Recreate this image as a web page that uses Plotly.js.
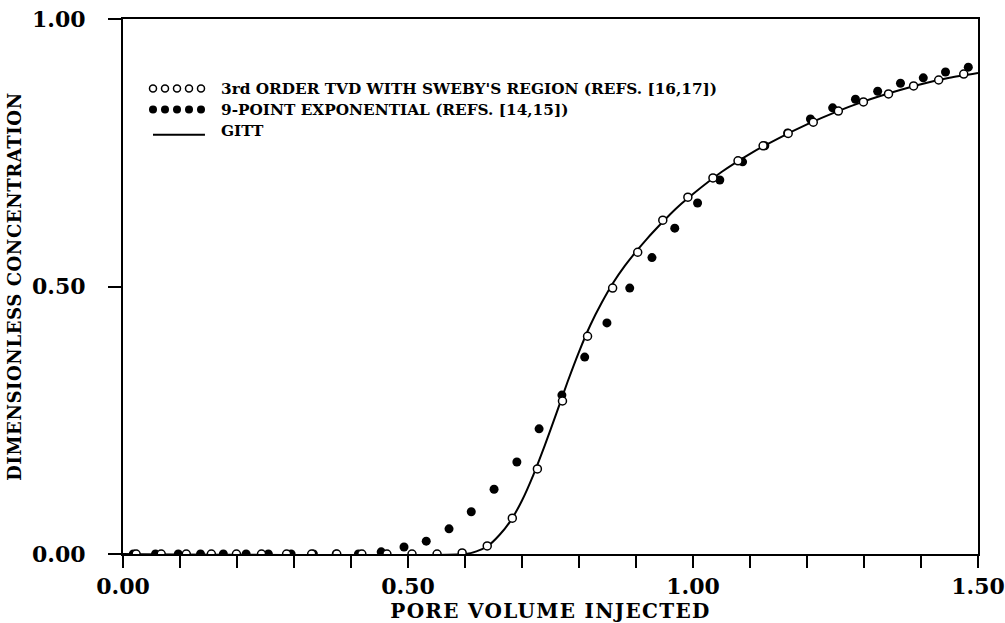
<!DOCTYPE html>
<html>
<head>
<meta charset="utf-8">
<script src="https://cdn.plot.ly/plotly-3.0.1.min.js"></script>
<style>
  html, body { margin: 0; padding: 0; background: #fff; }
  #chart { width: 1005px; height: 623px; }
  /* wide typewriter-like spacing for the axis titles */
  #chart .xtitle { letter-spacing: 1.3px; }
  #chart .ytitle { letter-spacing: 0.6px; }
</style>
</head>
<body>
<div id="chart"></div>
<script>
// Pore volume injected (x) and dimensionless concentration (y) for each scheme.
var tvdX = [0.023, 0.067, 0.111, 0.155, 0.199, 0.243, 0.287, 0.331, 0.375, 0.419,
            0.463, 0.507, 0.551, 0.595, 0.639, 0.683, 0.727, 0.771, 0.815, 0.859,
            0.903, 0.947, 0.991, 1.035, 1.079, 1.123, 1.167, 1.211, 1.255, 1.299,
            1.343, 1.387, 1.431, 1.475];
var tvdY = [0, 0, 0, 0, 0, 0, 0, 0, 0, 0,
            0, 0, 0, 0.002, 0.015, 0.067, 0.159, 0.286, 0.407, 0.497,
            0.564, 0.624, 0.667, 0.703, 0.735, 0.763, 0.786, 0.807, 0.828, 0.845,
            0.860, 0.875, 0.886, 0.897];

var expX = [0.018, 0.057, 0.097, 0.136, 0.176, 0.216, 0.255, 0.295, 0.334, 0.374,
            0.413, 0.453, 0.493, 0.532, 0.572, 0.611, 0.651, 0.691, 0.730, 0.770,
            0.810, 0.849, 0.889, 0.928, 0.968, 1.008, 1.047, 1.087, 1.126, 1.166,
            1.206, 1.245, 1.285, 1.324, 1.364, 1.404, 1.443, 1.483];
var expY = [0, 0, 0, 0, 0, 0, 0, 0, 0, 0,
            0, 0.004, 0.013, 0.024, 0.047, 0.079, 0.121, 0.172, 0.234, 0.297,
            0.368, 0.432, 0.497, 0.554, 0.609, 0.656, 0.699, 0.733, 0.763, 0.787,
            0.813, 0.834, 0.850, 0.865, 0.880, 0.890, 0.901, 0.910];

var gittX = [0.00, 0.60, 0.62, 0.64, 0.66, 0.68, 0.70, 0.72, 0.74, 0.76,
             0.78, 0.80, 0.82, 0.84, 0.86, 0.88, 0.90, 0.92, 0.94, 0.96,
             0.98, 1.00, 1.05, 1.10, 1.15, 1.20, 1.25, 1.30, 1.35, 1.40,
             1.45, 1.50];
var gittY = [0.000, 0.000, 0.005, 0.015, 0.035, 0.062, 0.100, 0.148, 0.203, 0.262,
             0.322, 0.378, 0.428, 0.470, 0.507, 0.538, 0.565, 0.590, 0.613, 0.635,
             0.655, 0.673, 0.714, 0.748, 0.777, 0.803, 0.826, 0.846, 0.863, 0.878,
             0.890, 0.899];

// Axis ticks: every 0.1 on x, labelled every 0.5.
var xTickVals = [0, 0.1, 0.2, 0.3, 0.4, 0.5, 0.6, 0.7, 0.8, 0.9, 1.0, 1.1, 1.2, 1.3, 1.4, 1.5];
var xTickText = ["0.00", "", "", "", "", "0.50", "", "", "", "", "1.00", "", "", "", "", "1.50"];
var yTickVals = [0, 0.5, 1.0];
var yTickText = ["0.00", "0.50", "1.00"];

// Key entries: label text and the positions of the sample symbols in each row.
var keyLabels = ["3rd ORDER TVD WITH SWEBY'S REGION (REFS. [16,17])",
                 "9-POINT EXPONENTIAL (REFS. [14,15])",
                 "GITT"];
var keySampleX = [0, 1, 2, 3, 4];
var keyLineX = [0, 4.33];

var serif = "DejaVu Serif, Liberation Serif, serif";
var ink = "#000";

var traces = [
  { x: gittX, y: gittY, type: "scatter", mode: "lines",
    line: { color: ink, width: 2, shape: "spline", smoothing: 0.6 },
    hoverinfo: "skip", showlegend: false },
  { x: expX, y: expY, type: "scatter", mode: "markers",
    marker: { symbol: "circle", size: 9, color: ink },
    showlegend: false },
  { x: tvdX, y: tvdY, type: "scatter", mode: "markers",
    marker: { symbol: "circle", size: 8, color: "#fff", line: { color: ink, width: 1.5 } },
    showlegend: false },
  // key samples
  { x: keySampleX, y: keySampleX.map(function () { return 0; }), xaxis: "x2", yaxis: "y2",
    type: "scatter", mode: "markers",
    marker: { symbol: "circle", size: 7, color: "#fff", line: { color: ink, width: 1.5 } },
    hoverinfo: "skip", showlegend: false },
  { x: keySampleX, y: keySampleX.map(function () { return 1; }), xaxis: "x2", yaxis: "y2",
    type: "scatter", mode: "markers",
    marker: { symbol: "circle", size: 8, color: ink },
    hoverinfo: "skip", showlegend: false },
  { x: keyLineX, y: [2.2, 2.2], xaxis: "x2", yaxis: "y2",
    type: "scatter", mode: "lines", line: { color: ink, width: 2 },
    hoverinfo: "skip", showlegend: false }
];

// key text rows, placed in paper space beside the samples
var keyRowY = [0.8692, 0.8299, 0.7907];
var annotations = keyLabels.map(function (t, i) {
  return { text: t, xref: "paper", yref: "paper", x: 0.1135, y: keyRowY[i],
           xanchor: "left", yanchor: "middle", showarrow: false, borderpad: 0,
           font: { family: serif, size: 15.3, color: ink, weight: "bold" } };
});

var layout = {
  width: 1005, height: 623,
  margin: { l: 123, r: 27, t: 19, b: 69 },
  paper_bgcolor: "#fff", plot_bgcolor: "#fff",
  font: { family: serif, color: ink },
  showlegend: false,
  xaxis: {
    range: [0, 1.5], tickmode: "array", tickvals: xTickVals, ticktext: xTickText,
    ticks: "outside", ticklen: 12, tickwidth: 2, tickcolor: ink,
    showline: true, linewidth: 2, linecolor: ink, mirror: true,
    showgrid: false, zeroline: false,
    tickfont: { family: serif, size: 22, color: ink, weight: "bold" },
    title: { text: "PORE VOLUME INJECTED", standoff: 3,
             font: { family: serif, size: 20, color: ink, weight: "bold" } }
  },
  yaxis: {
    range: [0, 1], tickmode: "array", tickvals: yTickVals, ticktext: yTickText,
    ticks: "outside", ticklen: 13, tickwidth: 2, tickcolor: ink,
    ticklabelstandoff: 18,
    showline: true, linewidth: 2, linecolor: ink, mirror: true,
    showgrid: false, zeroline: false,
    tickfont: { family: serif, size: 22, color: ink, weight: "bold" },
    title: { text: "DIMENSIONLESS CONCENTRATION", standoff: 6,
             font: { family: serif, size: 18, color: ink, weight: "bold" } }
  },
  xaxis2: { domain: [0.02105, 0.10526], range: [-1, 5], anchor: "y2",
            visible: false, fixedrange: true },
  yaxis2: { domain: [0.77196, 0.88972], range: [2.5, -0.5], anchor: "x2",
            visible: false, fixedrange: true },
  annotations: annotations
};

Plotly.newPlot("chart", traces, layout, { staticPlot: true, displayModeBar: false });
</script>
</body>
</html>
